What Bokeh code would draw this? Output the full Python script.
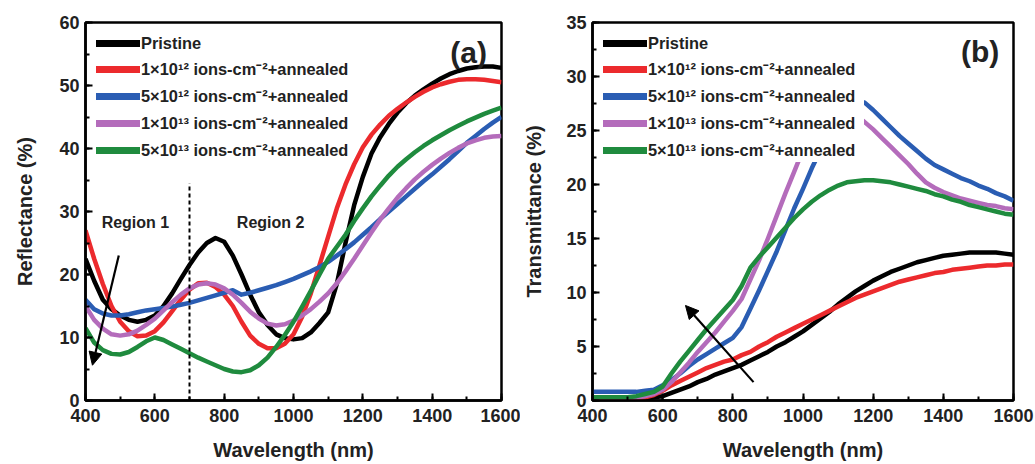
from bokeh.plotting import figure
from bokeh.layouts import row
from bokeh.models import (Range1d, Legend, LegendItem, Arrow, NormalHead, Label,
                          SingleIntervalTicker)
from bokeh.embed import file_html
from bokeh.resources import INLINE

# ---------------- data ----------------
wavelength = [400, 425, 450, 475, 500, 525, 550,
              575, 600, 625, 650, 675, 700, 725,
              750, 775, 800, 825, 850, 875, 900,
              925, 950, 975, 1000, 1025, 1050, 1075,
              1100, 1125, 1150, 1175, 1200, 1225, 1250,
              1275, 1300, 1325, 1350, 1375, 1400, 1425,
              1450, 1475, 1500, 1525, 1550, 1575, 1600]

series_names = ["Pristine",
                "1\u00d710\u00b9\u00b2 ions-cm\u207b\u00b2+annealed",
                "5\u00d710\u00b9\u00b2 ions-cm\u207b\u00b2+annealed",
                "1\u00d710\u00b9\u00b3 ions-cm\u207b\u00b2+annealed",
                "5\u00d710\u00b9\u00b3 ions-cm\u207b\u00b2+annealed"]
series_colors = ["#000000", "#ec2a2d", "#2a5db3", "#b46cbb", "#1f8b3e"]

# (a) Reflectance (%)
refl_pristine = [22.5, 19.0, 16.0, 14.5, 13.5, 12.8, 12.5,
                 12.8, 13.5, 15.0, 17.0, 19.3, 21.5, 23.5,
                 25.0, 25.8, 25.2, 23.0, 20.0, 16.8, 14.0,
                 12.0, 10.5, 9.9, 9.7, 9.9, 10.8, 12.3,
                 14.0, 18.5, 25.0, 31.0, 35.5, 39.2, 41.8,
                 43.9, 45.7, 47.2, 48.4, 49.4, 50.3, 51.1,
                 51.8, 52.3, 52.7, 52.9, 53.0, 53.0, 52.8]
refl_1e12 = [27.0, 22.5, 18.5, 15.0, 12.5, 11.0, 10.2,
             10.3, 11.0, 12.4, 14.2, 16.0, 17.6, 18.6,
             18.7, 18.0, 16.8, 15.0, 12.5, 10.3, 9.0,
             8.3, 8.3, 9.0, 10.5, 13.3, 17.0, 21.5,
             26.0, 30.5, 34.3, 37.5, 40.2, 42.2, 43.8,
             45.2, 46.3, 47.3, 48.2, 49.0, 49.7, 50.2,
             50.6, 50.9, 51.0, 51.0, 50.9, 50.7, 50.5]
refl_5e12 = [16.0, 14.5, 13.8, 13.5, 13.5, 13.7, 14.0,
             14.3, 14.5, 14.7, 14.9, 15.2, 15.5, 15.9,
             16.3, 16.7, 17.1, 17.5, 16.8, 17.1, 17.5,
             17.9, 18.3, 18.8, 19.3, 19.9, 20.5, 21.2,
             22.0, 23.0, 24.0, 25.1, 26.3, 27.5, 28.8,
             30.0, 31.2, 32.4, 33.6, 34.8, 35.9, 37.1,
             38.3, 39.6, 40.9, 42.0, 43.1, 44.1, 45.0]
refl_1e13 = [15.0, 12.8, 11.4, 10.5, 10.3, 10.5, 11.1,
             12.0, 13.0, 14.3, 15.6, 16.8, 17.8, 18.4,
             18.6, 18.4, 17.8, 16.8, 15.5, 14.1, 13.0,
             12.2, 11.9, 12.1, 12.7, 13.5, 14.5, 15.7,
             17.0, 18.6, 20.5, 22.5, 24.6, 26.7, 28.7,
             30.5, 32.2, 33.7, 35.1, 36.3, 37.4, 38.4,
             39.3, 40.1, 40.8, 41.3, 41.7, 41.9, 42.0]
refl_5e13 = [11.5, 9.2, 8.0, 7.4, 7.3, 7.7, 8.5,
             9.4, 10.0, 9.6, 8.9, 8.2, 7.5, 6.8,
             6.2, 5.6, 5.0, 4.6, 4.5, 4.8, 5.6,
             6.8, 8.5, 10.4, 12.5, 14.9, 17.4, 20.0,
             22.5, 24.4, 26.3, 28.5, 30.5, 32.4, 34.1,
             35.7, 37.1, 38.3, 39.4, 40.4, 41.3, 42.1,
             42.9, 43.6, 44.3, 44.9, 45.5, 46.0, 46.5]

# (b) Transmittance (%)
trans_pristine = [0.1, 0.1, 0.1, 0.1, 0.1, 0.1, 0.2,
                  0.3, 0.4, 0.7, 1.0, 1.3, 1.7, 2.0,
                  2.4, 2.7, 3.0, 3.3, 3.7, 4.1, 4.5,
                  5.0, 5.4, 5.9, 6.4, 7.0, 7.6, 8.2,
                  8.9, 9.5, 10.1, 10.6, 11.1, 11.5, 11.9,
                  12.2, 12.5, 12.8, 13.0, 13.2, 13.4, 13.5,
                  13.6, 13.7, 13.7, 13.7, 13.7, 13.6, 13.5]
trans_1e12 = [0.2, 0.2, 0.2, 0.2, 0.2, 0.2, 0.3,
              0.5, 0.9, 1.4, 1.8, 2.2, 2.6, 3.0,
              3.3, 3.6, 3.8, 4.2, 4.5, 5.0, 5.4,
              5.9, 6.3, 6.7, 7.1, 7.5, 7.9, 8.3,
              8.7, 9.1, 9.5, 9.8, 10.1, 10.4, 10.7,
              11.0, 11.2, 11.4, 11.6, 11.8, 11.9, 12.1,
              12.2, 12.3, 12.4, 12.5, 12.5, 12.6, 12.6]
trans_5e12 = [0.8, 0.8, 0.8, 0.8, 0.8, 0.8, 0.9,
              1.0, 1.4, 1.9, 2.5, 3.2, 3.8, 4.3,
              4.8, 5.3, 5.8, 6.8, 8.5, 10.2, 12.0,
              13.8, 15.8, 17.8, 19.6, 21.5, 23.2, 24.8,
              26.2, 27.2, 27.7, 27.6, 26.9, 26.1, 25.3,
              24.5, 23.8, 23.1, 22.4, 21.8, 21.4, 21.0,
              20.6, 20.3, 19.9, 19.6, 19.2, 18.9, 18.5]
trans_1e13 = [0.3, 0.3, 0.3, 0.3, 0.3, 0.3, 0.4,
              0.6, 1.0, 1.7, 2.6, 3.5, 4.5, 5.4,
              6.3, 7.3, 8.3, 9.4, 11.2, 13.0, 15.0,
              17.1, 19.2, 21.2, 23.2, 25.0, 26.3, 27.0,
              27.2, 26.9, 26.4, 25.8, 25.1, 24.3, 23.5,
              22.7, 21.9, 21.0, 20.2, 19.7, 19.3, 19.0,
              18.7, 18.5, 18.3, 18.1, 18.0, 17.8, 17.7]
trans_5e13 = [0.3, 0.3, 0.3, 0.3, 0.3, 0.4, 0.6,
              0.8, 1.3, 2.5, 3.6, 4.6, 5.6, 6.6,
              7.5, 8.4, 9.3, 10.6, 12.3, 13.3, 14.2,
              15.1, 16.0, 16.9, 17.7, 18.4, 19.0, 19.5,
              19.9, 20.2, 20.3, 20.4, 20.4, 20.3, 20.2,
              20.0, 19.8, 19.6, 19.4, 19.1, 18.9, 18.6,
              18.4, 18.1, 17.9, 17.7, 17.5, 17.3, 17.2]

refl_series = [refl_pristine, refl_1e12, refl_5e12, refl_1e13, refl_5e13]
trans_series = [trans_pristine, trans_1e12, trans_5e12, trans_1e13, trans_5e13]

FONT = "Liberation Sans"
TXT = "#222222"
NAN = float("nan")


def make_fig(width, left, right, ymax, ystep, ylabel, ylabel_standoff):
    p = figure(width=width, height=464, x_range=Range1d(400, 1600), y_range=Range1d(0, ymax),
               output_backend="svg", toolbar_location=None,
               min_border_left=left, min_border_right=right,
               min_border_top=22, min_border_bottom=64)
    p.grid.visible = False
    p.outline_line_color = "black"
    p.outline_line_width = 2.5
    p.background_fill_color = "white"
    p.border_fill_color = "white"
    p.xaxis.ticker = SingleIntervalTicker(interval=200, num_minor_ticks=2)
    p.yaxis.ticker = SingleIntervalTicker(interval=ystep, num_minor_ticks=2)
    for ax in (p.xaxis[0], p.yaxis[0]):
        ax.major_tick_in = 7
        ax.major_tick_out = 0
        ax.minor_tick_in = 4
        ax.minor_tick_out = 0
        ax.major_tick_line_width = 2
        ax.minor_tick_line_width = 2
        ax.axis_line_width = 2.5
        ax.major_label_text_font = FONT
        ax.major_label_text_font_style = "bold"
        ax.major_label_text_font_size = "18px"
        ax.major_label_text_color = TXT
        ax.axis_label_text_font = FONT
        ax.axis_label_text_font_style = "bold"
        ax.axis_label_text_font_size = "20px"
        ax.axis_label_text_color = TXT
    p.xaxis.axis_label = "Wavelength (nm)"
    p.xaxis.major_label_standoff = 8
    p.xaxis.axis_label_standoff = 14
    p.yaxis.axis_label = ylabel
    p.yaxis.major_label_standoff = 6
    p.yaxis.axis_label_standoff = ylabel_standoff
    return p


def add_series(p, ys_list, label_width):
    items = []
    for name, color, ys in zip(series_names, series_colors, ys_list):
        p.line(wavelength, ys, line_color=color, line_width=4.5, line_join="round")
        # legend-only glyph (thicker swatch), contains no drawable data
        swatch = p.line([NAN], [NAN], line_color=color, line_width=7, line_cap="round")
        items.append(LegendItem(label=name, renderers=[swatch]))
    leg = Legend(items=items, location="top_left", margin=10, padding=1,
                 glyph_width=44, glyph_height=20, label_height=20, label_width=label_width,
                 spacing=4, label_standoff=1, label_text_font=FONT,
                 label_text_font_style="bold", label_text_font_size="16.4px",
                 label_text_color=TXT, border_line_alpha=0,
                 background_fill_color="white", background_fill_alpha=1.0)
    p.add_layout(leg)


# ---------------- panel (a) ----------------
pa = make_fig(520, 85, 19, 60, 10, "Reflectance (%)", 20)
add_series(pa, refl_series, 100)
pa.segment(x0=[700], y0=[0], x1=[700], y1=[34.5], line_color="black", line_width=2,
           line_dash="4 3")
pa.add_layout(Arrow(end=NormalHead(size=13, fill_color="black", line_color="black"),
                    x_start=496, y_start=23.0, x_end=420, y_end=5.6,
                    line_color="black", line_width=2.2))
for txt, xx in (("Region 1", 544), ("Region 2", 934)):
    pa.add_layout(Label(x=xx, y=28.3, text=txt, text_font=FONT, text_font_style="bold",
                        text_font_size="16px", text_align="center", text_baseline="middle",
                        text_color=TXT))
pa.add_layout(Label(x=1505, y=55.2, text="(a)", text_font=FONT, text_font_style="bold",
                    text_font_size="30px", text_align="center", text_baseline="middle",
                    text_color=TXT))

# ---------------- panel (b) ----------------
pb = make_fig(515, 72, 22, 35, 5, "Transmittance (%)", 18)
add_series(pb, trans_series, 215)
pb.add_layout(Arrow(end=NormalHead(size=13, fill_color="black", line_color="black"),
                    x_start=859, y_start=1.7, x_end=665, y_end=8.8,
                    line_color="black", line_width=2.2))
pb.add_layout(Label(x=1505, y=32.3, text="(b)", text_font=FONT, text_font_style="bold",
                    text_font_size="30px", text_align="center", text_baseline="middle",
                    text_color=TXT))

layout = row(pa, pb)
open("out.html", "w").write(file_html(layout, INLINE))
